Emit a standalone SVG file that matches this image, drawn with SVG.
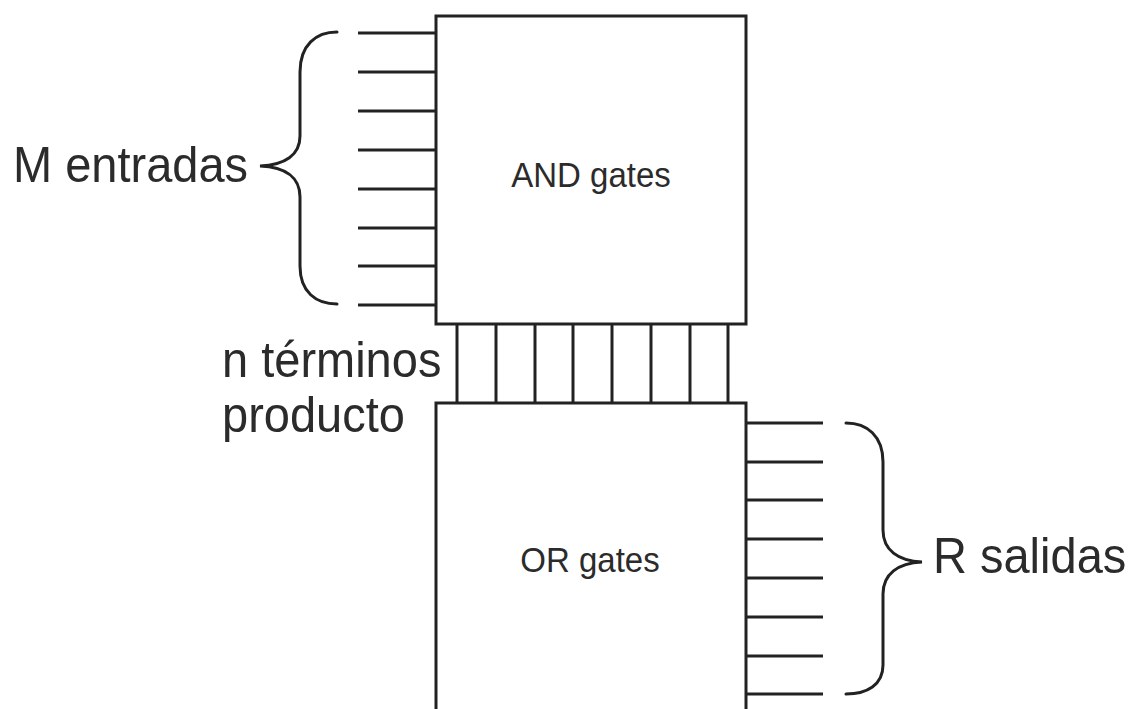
<svg xmlns="http://www.w3.org/2000/svg" width="1137" height="709" viewBox="0 0 1137 709">
<style>
.box{fill:#fff;stroke:#222;stroke-width:3}
.ln{stroke:#222;stroke-width:3;fill:none}
.br{stroke:#222;stroke-width:3;fill:none;stroke-linecap:round}
.big{font-family:"Liberation Sans",Arial,sans-serif;font-size:47px;fill:#2b2b2b}
.gate{font-family:"Liberation Sans",Arial,sans-serif;font-size:33px;fill:#2b2b2b;text-anchor:middle}
</style>
<rect width="1137" height="709" fill="#fff"/>
<g id="connectors">
<g id="inputs">
<line class="ln" x1="358" y1="33" x2="436" y2="33"/>
<line class="ln" x1="358" y1="72" x2="436" y2="72"/>
<line class="ln" x1="358" y1="111" x2="436" y2="111"/>
<line class="ln" x1="358" y1="150" x2="436" y2="150"/>
<line class="ln" x1="358" y1="189" x2="436" y2="189"/>
<line class="ln" x1="358" y1="228" x2="436" y2="228"/>
<line class="ln" x1="358" y1="266" x2="436" y2="266"/>
<line class="ln" x1="358" y1="305" x2="436" y2="305"/>
</g>
<g id="products">
<line class="ln" x1="457" y1="324" x2="457" y2="403"/>
<line class="ln" x1="496" y1="324" x2="496" y2="403"/>
<line class="ln" x1="535" y1="324" x2="535" y2="403"/>
<line class="ln" x1="573" y1="324" x2="573" y2="403"/>
<line class="ln" x1="612" y1="324" x2="612" y2="403"/>
<line class="ln" x1="651" y1="324" x2="651" y2="403"/>
<line class="ln" x1="690" y1="324" x2="690" y2="403"/>
<line class="ln" x1="728" y1="324" x2="728" y2="403"/>
</g>
<g id="outputs">
<line class="ln" x1="746" y1="423" x2="823" y2="423"/>
<line class="ln" x1="746" y1="462" x2="823" y2="462"/>
<line class="ln" x1="746" y1="500" x2="823" y2="500"/>
<line class="ln" x1="746" y1="539" x2="823" y2="539"/>
<line class="ln" x1="746" y1="578" x2="823" y2="578"/>
<line class="ln" x1="746" y1="617" x2="823" y2="617"/>
<line class="ln" x1="746" y1="656" x2="823" y2="656"/>
<line class="ln" x1="746" y1="694" x2="823" y2="694"/>
</g>
<path id="brace-in" class="br" d="M337,32 C316,32 300,45 300,72 L300,136 C300,155 285,165 260,166 C285,167 300,177 300,197 L300,266 C300,292 316,304 337,304"/>
<path id="brace-out" class="br" d="M846,423 C867,423 883,436 883,462 L883,530 C883,550 898,561 922,562 C898,563 883,574 883,594 L883,665 C883,685 867,694 846,694"/>
</g>
<g id="and-gates">
<rect class="box" x="436" y="16" width="310" height="308"/>
<text class="gate" x="591" y="187" transform="translate(591,187) scale(1,1.08) translate(-591,-187)">AND gates</text>
</g>
<g id="or-gates">
<rect class="box" x="436" y="403" width="310" height="320"/>
<text class="gate" x="590" y="572" transform="translate(590,572) scale(1,1.08) translate(-590,-572)">OR gates</text>
</g>
<g id="label-m">
<text class="big" transform="translate(13,182) scale(1,1.08)">M entradas</text>
</g>
<g id="label-n">
<text class="big" transform="translate(222,377) scale(1,1.08)">n términos</text>
<text class="big" transform="translate(222,432) scale(1,1.08)">producto</text>
</g>
<g id="label-r">
<text class="big" transform="translate(933,573) scale(1,1.08)">R salidas</text>
</g>
</svg>
